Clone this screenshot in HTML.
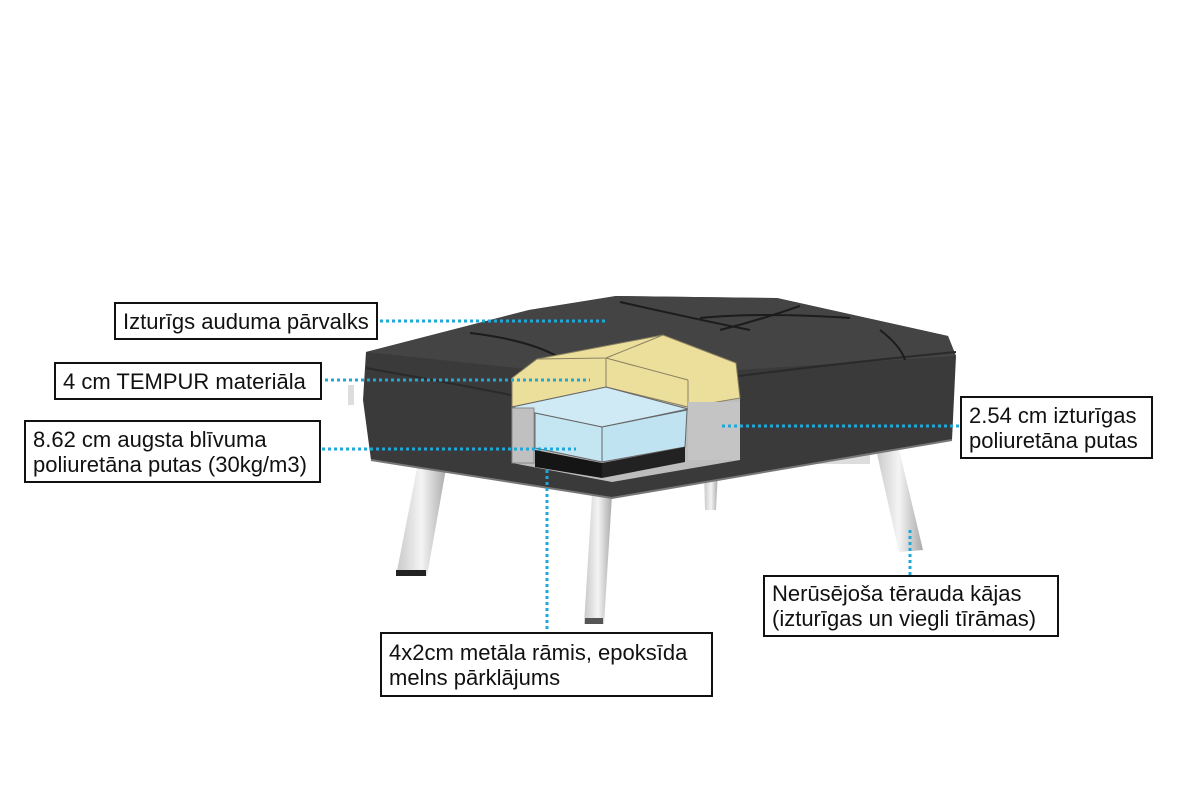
<!DOCTYPE html>
<html><head><meta charset="utf-8"><style>
body{margin:0;width:1200px;height:800px;background:#fff;overflow:hidden;position:relative;font-family:"Liberation Sans",sans-serif}
.b{position:absolute;border:2px solid #111;background:#fff;color:#111;font-size:22px;line-height:25px;padding:0 7px;box-sizing:border-box;display:flex;flex-direction:column;justify-content:center;white-space:nowrap}
svg{position:absolute;left:0;top:0}
</style></head><body>
<svg width="1200" height="800" viewBox="0 0 1200 800">
<defs><linearGradient id="leg" x1="0" x2="1"><stop offset="0" stop-color="#c8c8c8"/><stop offset="0.5" stop-color="#f4f4f4"/><stop offset="1" stop-color="#a9a9a9"/></linearGradient></defs>
<!-- legs -->
<polygon points="704,470 718,470 716,510 705,510" fill="url(#leg)"/>
<rect x="790" y="452" width="80" height="12" fill="#ddd"/>
<polygon points="875,445 897,441 923,550 899,552" fill="url(#leg)"/>
<polygon points="419,458 447,463 427,576 396,576" fill="url(#leg)"/>
<polygon points="592,495 612,495 604,624 584,624" fill="url(#leg)"/>
<rect x="396" y="570" width="30" height="6" fill="#222"/>
<rect x="585" y="618" width="18" height="6" fill="#555"/>
<!-- body -->
<polygon points="366,352 529,310 616,296 777,298 948,336 956,356 952,440 612,498 371,460 363,400" fill="#3a3a3a"/>
<polygon points="366,352 529,310 616,296 777,298 948,336 956,356 612,378" fill="#444"/>
<path d="M366,368 Q500,392 514,396 M739,376 Q850,362 956,352" stroke="#2a2a2a" stroke-width="2" fill="none"/>
<path d="M470,333 Q530,340 560,358 M700,318 Q760,312 850,318 M620,302 Q700,320 750,330 M800,306 Q760,320 720,330 M880,330 Q900,345 905,360" stroke="#1c1c1c" stroke-width="2" fill="none"/>
<path d="M371,460 L612,498 L952,440" stroke="#777" stroke-width="2" fill="none"/>
<rect x="348" y="385" width="6" height="20" fill="#ddd"/>
<!-- cutout -->
<polygon points="512,378 537,359 663,335 736,363 740,398 740,460 612,482 512,463" fill="#bdbdbd"/>
<polygon points="512,378 537,359 663,335 736,363 740,398 688,407 606,387 512,407" fill="#ecdf9c" stroke="#8a8060" stroke-width="1"/>
<line x1="606" y1="358" x2="606" y2="387" stroke="#8a8060"/>
<polyline points="537,359 606,358 663,335" fill="none" stroke="#8a8060"/>
<line x1="606" y1="358" x2="688" y2="380" stroke="#8a8060"/>
<line x1="688" y1="380" x2="688" y2="407" stroke="#8a8060"/>
<polygon points="512,407 606,387 688,409 602,427 535,413" fill="#cfeaf4" stroke="#666" stroke-width="1"/>
<polygon points="535,413 602,427 602,462 535,448" fill="#c4e6f3" stroke="#666" stroke-width="1"/>
<polygon points="602,427 687,410 685,447 602,462" fill="#bfe3f1" stroke="#666" stroke-width="1"/>
<polygon points="535,450 602,463 602,478 535,467" fill="#151515"/>
<polygon points="602,463 685,447 685,462 602,478" fill="#222"/>
<rect x="512" y="408" width="22" height="55" fill="#c0c0c0" stroke="#888"/>
<rect x="688" y="402" width="52" height="58" fill="#c4c4c4"/>
<!-- dotted connectors -->
<g stroke="#1ea8d8" stroke-width="3" stroke-dasharray="3 3" fill="none">
<line x1="380" y1="321" x2="606" y2="321"/>
<line x1="325" y1="380" x2="590" y2="380"/>
<line x1="322" y1="449" x2="576" y2="449"/>
<line x1="722" y1="426" x2="960" y2="426"/>
<line x1="547" y1="470" x2="547" y2="632"/>
<line x1="910" y1="530" x2="910" y2="575"/>
</g>
</svg>
<div class="b" style="left:114px;top:302px;width:264px;height:38px">Izturīgs auduma pārvalks</div>
<div class="b" style="left:54px;top:362px;width:268px;height:38px">4 cm TEMPUR materiāla</div>
<div class="b" style="left:24px;top:420px;width:297px;height:63px">8.62 cm augsta blīvuma<br>poliuretāna putas (30kg/m3)</div>
<div class="b" style="left:960px;top:396px;width:193px;height:63px">2.54 cm izturīgas<br>poliuretāna putas</div>
<div class="b" style="left:763px;top:575px;width:296px;height:62px">Nerūsējoša tērauda kājas<br>(izturīgas un viegli tīrāmas)</div>
<div class="b" style="left:380px;top:632px;width:333px;height:65px">4x2cm metāla rāmis, epoksīda<br>melns pārklājums</div>
</body></html>
